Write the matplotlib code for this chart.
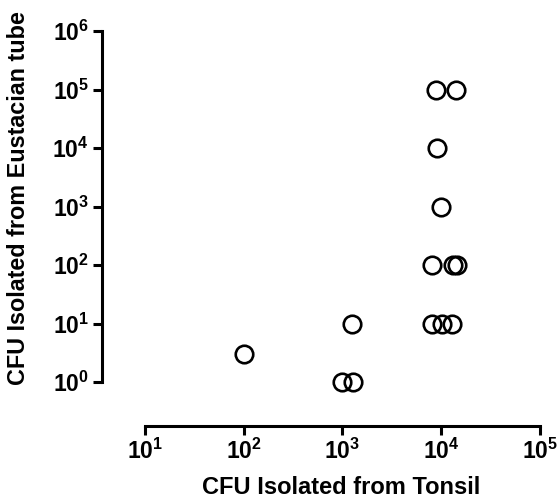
import matplotlib
matplotlib.use("Agg")
import matplotlib.pyplot as plt
from matplotlib.ticker import LogLocator, LogFormatterMathtext, NullLocator

plt.rcParams["font.family"] = "Liberation Sans"
plt.rcParams["font.weight"] = "bold"
plt.rcParams["mathtext.fontset"] = "custom"
plt.rcParams["mathtext.rm"] = "Liberation Sans:bold"
plt.rcParams["mathtext.bf"] = "Liberation Sans:bold"
plt.rcParams["mathtext.default"] = "bf"

# CFU counts
tonsil = [100, 1000, 1280, 1250, 8050, 10200, 12850, 8050, 13150, 14400, 10000, 9000, 8840, 14100]
eustachian = [3, 1, 1, 10, 10, 10, 10, 100, 100, 100, 1000, 10000, 100000, 100000]

x_label = "CFU Isolated from Tonsil"
y_label = "CFU Isolated from Eustacian tube"

fig = plt.figure(figsize=(5.59, 5.04), dpi=100)
W, H = 559, 504
ax = fig.add_axes([102 / W, 1 - 426 / H, (540 - 102) / W, (426 - 31) / H])

ax.plot(tonsil, eustachian, linestyle="none", marker="o", markersize=12.6,
        markerfacecolor="none", markeredgecolor="black", markeredgewidth=1.9)

ax.set_xscale("log")
ax.set_yscale("log")
ax.set_xlim(10 ** 0.565, 1e5)
ax.set_ylim(10 ** -0.752, 1e6)

for side in ["top", "right"]:
    ax.spines[side].set_visible(False)
for side in ["left", "bottom"]:
    ax.spines[side].set_linewidth(2.2)
ax.spines["left"].set_bounds(1, 1e6)
ax.spines["bottom"].set_bounds(10, 1e5)

ax.xaxis.set_major_locator(LogLocator(base=10, numticks=10))
ax.yaxis.set_major_locator(LogLocator(base=10, numticks=10))
ax.xaxis.set_minor_locator(NullLocator())
ax.yaxis.set_minor_locator(NullLocator())
ax.xaxis.set_major_formatter(LogFormatterMathtext())
ax.yaxis.set_major_formatter(LogFormatterMathtext())
ax.tick_params(axis="both", which="major", length=6.5, width=2.2,
               labelsize=16.5, pad=3)

fig.text(341 / W, 1 - 488 / H, x_label, ha="center", va="center",
         fontsize=17, fontweight="bold")
fig.text(19 / W, 1 - 198 / H, y_label, ha="center", va="center",
         rotation=90, fontsize=16.8, fontweight="bold")

fig.savefig("out.png", dpi=100)
